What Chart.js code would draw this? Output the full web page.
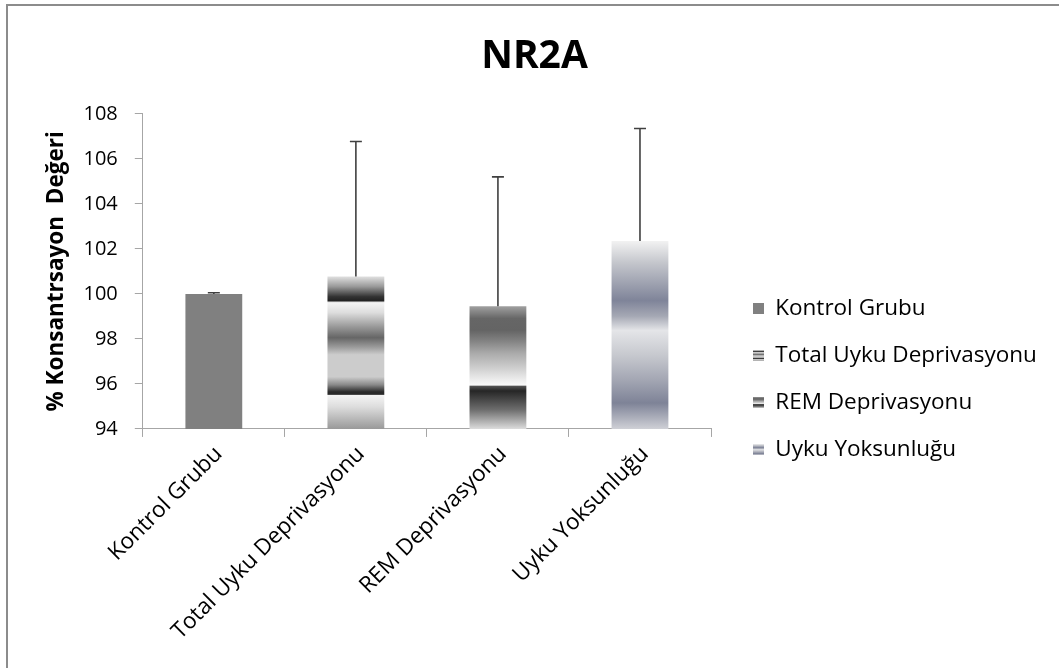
<!DOCTYPE html>
<html>
<head>
<meta charset="utf-8">
<script src="https://cdn.jsdelivr.net/npm/chart.js@4.4.0/dist/chart.umd.min.js"></script>
<style>
  html, body { margin: 0; padding: 0; background: #fff; overflow: hidden; }
  #frame { position: absolute; left: 6px; top: 4px; width: 1100px; height: 700px;
           border-top: 2px solid #8c8c8c; border-left: 2px solid #8c8c8c; }
  #wrap { position: absolute; left: 0; top: 0; width: 1059px; height: 668px; }
</style>
</head>
<body>
<div id="frame"></div>
<div id="wrap"><canvas id="nr2aChart"></canvas></div>
<script>
const groups = ['Kontrol Grubu', 'Total Uyku Deprivasyonu', 'REM Deprivasyonu', 'Uyku Yoksunluğu'];
const meanValues = [100, 100.77, 99.45, 102.35];
const errorPlus = [0.05, 6.0, 5.75, 5.0];
const yTicks = [94, 96, 98, 100, 102, 104, 106, 108];

// gradient bands, as fractions of each bar's own height (0 = top)
const bandFills = [
    [[0, '#808080'], [1, '#808080']],
    [[0, '#e0e0e0'], [0.066, '#999999'], [0.132, '#333333'], [0.158, '#222222'], [0.171, '#f4f4f4'],
     [0.237, '#dddddd'], [0.329, '#999999'], [0.401, '#666666'], [0.461, '#999999'], [0.513, '#cccccc'],
     [0.658, '#cccccc'], [0.711, '#888888'], [0.757, '#2a2a2a'], [0.773, '#2a2a2a'], [0.78, '#f4f4f4'],
     [0.855, '#dddddd'], [1, '#999999']],
    [[0, '#a0a0a0'], [0.1, '#666666'], [0.195, '#646464'], [0.276, '#808080'], [0.382, '#aaaaaa'],
     [0.496, '#cccccc'], [0.602, '#eeeeee'], [0.642, '#fafafa'], [0.654, '#505050'], [0.69, '#262626'],
     [0.845, '#6e6e6e'], [1, '#dcdcdc']],
    [[0, '#f2f2f2'], [0.116, '#c4c6cc'], [0.317, '#7f8499'], [0.4, '#a5a8b4'], [0.476, '#e4e5e8'],
     [0.61, '#c6c8ce'], [0.74, '#a3a6b3'], [0.862, '#7e8397'], [1, '#cfd0d6']]
];

function makeIcon(stops) {
    const c = document.createElement('canvas');
    c.width = 11; c.height = 11;
    const g = c.getContext('2d');
    const grad = g.createLinearGradient(0, 0, 0, 11);
    stops.forEach(s => grad.addColorStop(s[0], s[1]));
    g.fillStyle = grad;
    g.fillRect(0, 0, 11, 11);
    return c;
}
const legendIcons = bandFills.map(makeIcon);

function barFill(context) {
    const chart = context.chart;
    const stops = bandFills[context.dataIndex];
    const y = chart.scales.y;
    if (!chart.chartArea || !y) return stops[0][1];
    const top = y.getPixelForValue(context.raw);
    const bottom = y.getPixelForValue(y.min);
    const grad = chart.ctx.createLinearGradient(0, top, 0, bottom);
    stops.forEach(s => grad.addColorStop(s[0], s[1]));
    return grad;
}

// upper error bars only
const errorBars = {
    id: 'errorBars',
    afterDatasetsDraw(chart) {
        const meta = chart.getDatasetMeta(0);
        const y = chart.scales.y;
        const c = chart.ctx;
        c.save();
        c.strokeStyle = '#404040';
        c.lineWidth = 1.6;
        meta.data.forEach((bar, i) => {
            const top = y.getPixelForValue(meanValues[i] + errorPlus[i]);
            c.beginPath();
            c.moveTo(bar.x, bar.y);
            c.lineTo(bar.x, top);
            c.moveTo(bar.x - 6, top);
            c.lineTo(bar.x + 6, top);
            c.stroke();
        });
        c.restore();
    }
};

// legend lives in the empty strip right of the plot, like the Excel one
const legendGap = { x: 17.5, y: 221.5 };
const moveLegend = {
    id: 'moveLegend',
    afterLayout(chart) {
        const lg = chart.legend;
        const dx = chart.chartArea.right + legendGap.x - lg.left;
        lg.left += dx; lg.right += dx;
        lg.top += legendGap.y; lg.bottom += legendGap.y;
    }
};

const axisGray = '#a6a6a6';
const ctx = document.getElementById('nr2aChart').getContext('2d');
const nr2aChart = new Chart(ctx, {
    type: 'bar',
    data: {
        labels: groups,
        datasets: [{
            label: 'NR2A',
            data: meanValues,
            backgroundColor: barFill,
            borderWidth: 0,
            categoryPercentage: 1,
            barPercentage: 0.4
        }]
    },
    options: {
        responsive: true,
        maintainAspectRatio: false,
        animation: false,
        layout: { padding: { left: 10, right: 0, top: 0, bottom: 19 } },
        scales: {
            x: {
                grid: { offset: true, drawOnChartArea: false, tickLength: 8, color: axisGray },
                border: { color: axisGray },
                ticks: {
                    minRotation: 45, maxRotation: 45, padding: 4, labelOffset: 5, color: '#000',
                    font: { family: 'Open Sans', size: 22.5 }
                }
            },
            y: {
                min: yTicks[0],
                max: yTicks[yTicks.length - 1],
                afterBuildTicks: axis => { axis.ticks = yTicks.map(v => ({ value: v })); },
                grid: { drawOnChartArea: false, tickLength: 8, color: axisGray },
                border: { color: axisGray },
                ticks: { padding: 17, color: '#000', font: { family: 'Open Sans', size: 20 } },
                title: {
                    display: true,
                    text: '% Konsantrsayon  Değeri',
                    color: '#000',
                    font: { family: 'Open Sans', size: 22.5, weight: 'bold' },
                    padding: { top: 33.5, bottom: -4 }
                }
            },
            // empty strip on the right that holds the legend
            legendSpace: {
                position: 'right',
                grid: { display: false },
                border: { display: false },
                ticks: { display: false },
                afterFit: scale => { scale.width = 348; }
            }
        },
        plugins: {
            title: {
                display: true,
                text: 'NR2A',
                color: '#000',
                font: { family: 'Open Sans', size: 39, weight: 'bold' },
                padding: { top: 33, bottom: 34 }
            },
            legend: {
                position: 'chartArea',
                labels: {
                    usePointStyle: true,
                    boxWidth: 11,
                    boxHeight: 11,
                    padding: 24.5,
                    color: '#000',
                    font: { family: 'Open Sans', size: 22.5 },
                    generateLabels: () => groups.map((g, i) => ({
                        text: g,
                        pointStyle: legendIcons[i],
                        fillStyle: bandFills[i][0][1],
                        strokeStyle: 'rgba(0,0,0,0)',
                        lineWidth: 0,
                        hidden: false,
                        index: i,
                        datasetIndex: 0
                    }))
                }
            },
            tooltip: { enabled: false }
        }
    },
    plugins: [errorBars, moveLegend]
});
</script>
</body>
</html>
